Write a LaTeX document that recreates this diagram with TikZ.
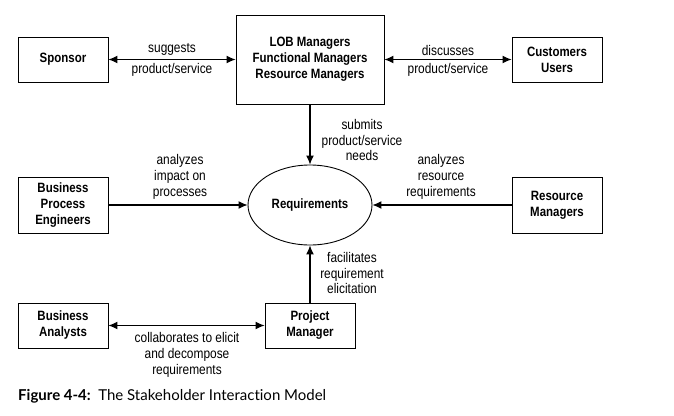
\documentclass[tikz,border=0pt]{standalone}
\usepackage{fontspec}
\setmainfont{Liberation Sans}[FakeStretch=0.85]
\newfontfamily\capfont{Lato}[Ligatures={NoCommon,NoRare}]
\usetikzlibrary{arrows.meta,shapes.geometric}

\begin{document}
\begin{tikzpicture}[x=1pt, y=-1pt]
\tikzset{party/.style={draw, line width=0.9pt, align=center, font=\fontsize{13.5}{16}\selectfont\bfseries, minimum width=90pt, minimum height=45pt, inner sep=2pt}}
\tikzset{tall/.style={party, minimum height=56pt}}
\tikzset{note/.style={align=center, font=\fontsize{14}{15.7}\selectfont, inner sep=1pt}}
\tikzset{link/.style={line width=1.2pt, -{Latex[length=9pt,width=8pt]}}}
\tikzset{both/.style={link, {Latex[length=9pt,width=8pt]}-{Latex[length=9pt,width=8pt]}}}
\useasboundingbox (0,0) rectangle (674,415);
%\draw[red] (0,0) rectangle (674,415);
\node[party] (sponsor) at (63,59.5) {Sponsor};
\node[party, minimum width=148pt, minimum height=89pt] (lob) at (310,59.5)
  {LOB Managers\\Functional Managers\\Resource Managers};
\node[party] (cust) at (557,59.5) {Customers\\Users};
\node[draw, ellipse, line width=0.9pt, minimum width=124pt, minimum height=80pt,
  font=\fontsize{13.5}{16}\selectfont\bfseries] (req) at (310,205) {Requirements};
\node[tall] (bpe) at (63,205) {Business\\Process\\Engineers};
\node[tall] (resm) at (557,205) {Resource\\Managers};
\node[party] (pm) at (310,325.5) {Project\\Manager};
\node[party] (ba) at (63,325.5) {Business\\Analysts};
\draw[both] (sponsor) -- (lob)
  node[note, midway, above=2pt] {suggests}
  node[note, midway, below=2pt] {product/service};
\draw[both] (lob) -- (cust)
  node[note, midway, above=2pt] {discusses}
  node[note, midway, below=2pt] {product/service};
\draw[link] (lob) -- (req);
\node[note] (sub) at (362,140) {submits\\product/service\\needs};
\draw[link] (bpe) -- (req);
\node[note] (imp) at (180,177) {analyzes\\impact on\\processes};
\draw[link] (resm) -- (req);
\node[note] (res) at (441,177) {analyzes\\resource\\requirements};
\draw[link] (pm) -- (req);
\node[note] (fac) at (352,273) {facilitates\\requirement\\elicitation};
\draw[both] (ba) -- (pm);
\node[note] (col) at (187,355) {collaborates to elicit\\and decompose\\requirements};
\node[anchor=west, inner sep=0pt, font=\capfont\fontsize{15}{17}\selectfont] (cap) at (18,396)
  {\textbf{Figure 4-4:}\enspace The Stakeholder Interaction Model};
\end{tikzpicture}
\end{document}
